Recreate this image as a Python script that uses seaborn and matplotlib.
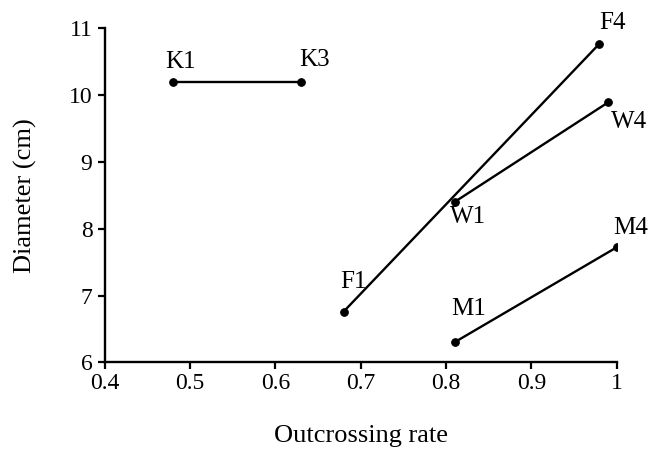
import pandas as pd
import numpy as np
import seaborn as sns
import matplotlib
matplotlib.use("Agg")
import matplotlib.pyplot as plt
from matplotlib.ticker import FuncFormatter

# populations: start / end point of each pair
groups = ["K", "K", "F", "F", "W", "W", "M", "M"]
names = ["K1", "K3", "F1", "F4", "W1", "W4", "M1", "M4"]
outcrossing = [0.48, 0.63, 0.68, 0.98, 0.81, 0.99, 0.81, 1.00]
diameter = [10.19, 10.19, 6.76, 10.77, 8.40, 9.89, 6.30, 7.72]
# label offsets (points)
label_dx = [5, 10, 7, 9, 10, 15, 10, 10]
label_dy = [15, 16, 21, 15, -11, -14, 24, 14]

df = pd.DataFrame({"group": groups, "name": names,
                   "x": outcrossing, "y": diameter})

sns.set_theme(style="ticks", rc={"text.color": "black",
                                 "axes.labelcolor": "black"})
plt.rcParams['font.family'] = ['Liberation Serif', 'DejaVu Serif']

fig = plt.figure(figsize=(6.5, 4.53), dpi=100)
ax = fig.add_axes([0.1615, 0.2002, 0.787, 0.7373])

sns.lineplot(data=df, x="x", y="y", units="group", estimator=None,
             color="black", linewidth=1.7, marker="o", markersize=5.5,
             markeredgecolor="black", sort=False, ax=ax)

for i in range(len(names)):
    ax.annotate(names[i], (outcrossing[i], diameter[i]),
                xytext=(label_dx[i], label_dy[i]), textcoords="offset points",
                ha="center", va="center", fontsize=18, color="black")

ax.set_xlim(0.4, 1.0)
ax.set_ylim(6, 11)
ax.set_xticks([0.4, 0.5, 0.6, 0.7, 0.8, 0.9, 1.0])
ax.set_yticks([6, 7, 8, 9, 10, 11])
ax.xaxis.set_major_formatter(FuncFormatter(lambda v, p: "%g" % v))
ax.tick_params(direction="out", length=5, width=1.6, labelsize=17,
               colors="black", pad=3)
ax.tick_params(axis="y", pad=4)
sns.despine(ax=ax)
for s in ["left", "bottom"]:
    ax.spines[s].set_linewidth(1.7)
    ax.spines[s].set_color("black")

ax.set_xlabel("Outcrossing rate", fontsize=19, labelpad=22, color="black")
ax.set_ylabel("Diameter (cm)", fontsize=19, labelpad=23, color="black")

fig.savefig("out.png", dpi=100)
